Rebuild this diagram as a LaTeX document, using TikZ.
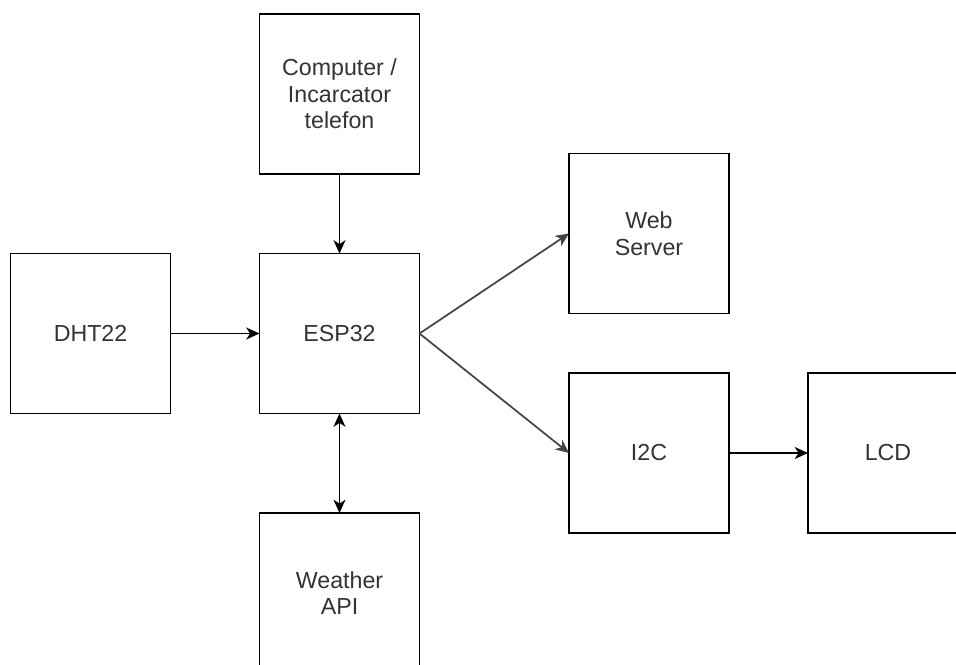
\documentclass[tikz,border=0pt]{standalone}
\usepackage{fontspec}
\setmainfont{Liberation Sans}
\usetikzlibrary{arrows.meta}
\definecolor{txt}{HTML}{333333}
\definecolor{diag}{HTML}{444444}
\begin{document}
\begin{tikzpicture}[x=0.75pt,y=-0.75pt,
  blockbox/.style={draw=black, line width=1.3pt, fill=white, minimum width=120pt, minimum height=120pt,
    inner sep=0pt, outer sep=0pt, align=center, text=txt,
    font=\fontsize{17.4pt}{20pt}\selectfont},
  tip/.tip={Stealth[length=10pt,width=9pt,inset=3pt]},
  conn/.style={line width=1.3pt, -tip},
  bothconn/.style={line width=1.3pt, tip-tip}
]
\clip (0,0) rectangle (956,664);
\fill[white] (0,0) rectangle (956,664);
\node[blockbox] (comp) at (339.5,94) {Computer /\\Incarcator\\telefon};
\node[blockbox] (dht) at (90.5,333.5) {DHT22};
\node[blockbox] (esp) at (339.5,333.5) {ESP32};
\node[blockbox] (weather) at (339.5,593) {Weather\\API};
\node[blockbox] (web) at (649,233.5) {Web\\Server};
\node[blockbox] (i2c) at (649,453) {I2C};
\node[blockbox] (lcd) at (888,453) {LCD};
\draw[conn] (comp.south) -- (esp.north);
\draw[conn] (dht.east) -- (esp.west);
\draw[bothconn] (esp.south) -- (weather.north);
\draw[conn, draw=diag, fill=diag] (esp.east) -- (web.west);
\draw[conn, draw=diag, fill=diag] (esp.east) -- (i2c.west);
\draw[conn] (i2c.east) -- (lcd.west);
\end{tikzpicture}
\end{document}
